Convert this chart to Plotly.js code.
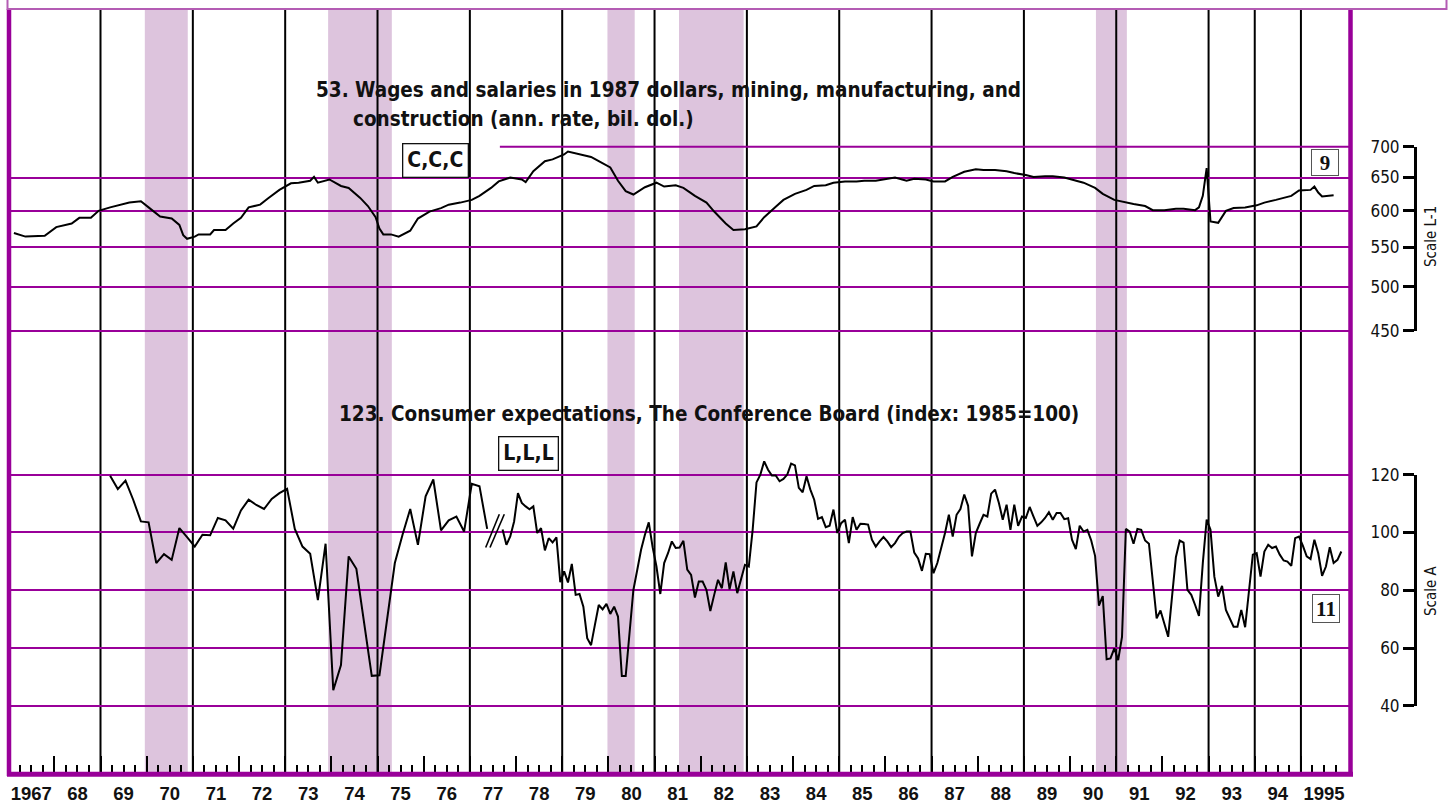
<!DOCTYPE html>
<html><head><meta charset="utf-8">
<script src="https://cdn.plot.ly/plotly-3.0.1.min.js"></script>
<style>html,body{margin:0;padding:0;background:#fff;}#chart{width:1448px;height:804px;}</style>
</head><body><div id="chart"></div>
<script>
// ---------------- DATA ----------------
const yearLabels = ["1967","68","69","70","71","72","73","74","75","76","77","78","79","80","81","82","83","84","85","86","87","88","89","90","91","92","93","94","1995"];
const dividerYears = [1969,1971,1973,1975,1977,1979,1981,1983,1985,1987,1989,1991,1993,1994,1995];
const recessionStarts = [1969.96,1973.93,1979.98,1981.53,1990.56];
const recessionEnds   = [1970.89,1975.31,1980.57,1982.93,1991.23];

// Series 53: wages and salaries (bil. 1987 $)
const wageMonths = ["1967-02","1967-05","1967-10","1968-01","1968-05","1968-07","1968-10","1968-12","1969-03","1969-06","1969-08","1969-11","1969-12","1970-01","1970-04","1970-07","1970-09","1970-10","1970-11","1971-01","1971-02","1971-05","1971-06","1971-09","1971-11","1972-01","1972-03","1972-06","1972-08","1972-11","1973-02","1973-04","1973-07","1973-08","1973-09","1973-12","1974-03","1974-05","1974-08","1974-10","1974-12","1975-01","1975-02","1975-04","1975-06","1975-09","1975-11","1976-02","1976-05","1976-07","1976-10","1977-01","1977-03","1977-06","1977-08","1977-11","1978-02","1978-03","1978-05","1978-08","1978-10","1979-01","1979-02","1979-05","1979-08","1979-10","1980-01","1980-03","1980-05","1980-07","1980-10","1981-01","1981-03","1981-06","1981-08","1981-11","1982-02","1982-04","1982-07","1982-09","1982-12","1983-03","1983-05","1983-08","1983-10","1984-01","1984-04","1984-06","1984-09","1984-11","1985-02","1985-05","1985-07","1985-10","1985-12","1986-03","1986-06","1986-08","1986-11","1987-01","1987-04","1987-06","1987-09","1987-12","1988-02","1988-05","1988-08","1988-10","1989-01","1989-03","1989-06","1989-08","1989-11","1990-02","1990-04","1990-07","1990-09","1990-12","1991-03","1991-05","1991-08","1991-10","1992-01","1992-04","1992-06","1992-09","1992-10","1992-11","1992-12","1993-01","1993-03","1993-05","1993-07","1993-10","1994-01","1994-03","1994-06","1994-08","1994-10","1994-12","1995-03","1995-04","1995-05","1995-06","1995-09"];
const wageValues = [569,564,565,577,582,590,590,600,605,609,612,614,610,605,592,589,580,566,561,564,567,567,573,573,582,590,605,609,618,631,641,642,645,651,642,647,637,634,619,607,591,575,567,567,564,572,589,599,604,609,612,616,622,634,644,650,647,643,660,676,679,687,692,687,683,676,666,645,629,624,635,642,636,638,634,622,612,599,582,573,574,578,591,606,616,625,631,637,638,642,644,644,645,645,647,650,645,648,647,644,644,651,659,663,662,662,660,657,654,651,652,652,650,645,642,634,625,616,612,610,607,601,601,603,603,601,605,622,665,585,583,600,604,605,608,612,616,619,622,630,631,636,627,621,623];

// Series 123: consumer expectations (1985=100), bimonthly 1969-1977
const expMonthsA = ["1969-03","1969-05","1969-07","1969-09","1969-11","1970-01","1970-03","1970-05","1970-07","1970-09","1970-11","1971-01","1971-03","1971-05","1971-07","1971-09","1971-11","1972-01","1972-03","1972-05","1972-07","1972-09","1972-11","1973-01","1973-03","1973-05","1973-07","1973-09","1973-11","1974-01","1974-03","1974-05","1974-07","1974-09","1974-11","1975-01","1975-03","1975-05","1975-07","1975-09","1975-11","1976-01","1976-03","1976-05","1976-07","1976-09","1976-11","1977-01","1977-03","1977-05"];
const expValuesA = [119.6,115,117.9,111.3,103.8,103.5,89.4,92.5,90.5,101.5,98.4,95.1,99.2,99.0,105.0,104.2,101.3,107.6,111.3,109.5,108.1,111.6,113.6,115.1,101.2,95.1,92.6,76.6,96.1,45.4,54.1,91.7,87.4,69.7,50.4,50.6,69.7,89.4,99.2,108.1,95.7,112.5,118.3,100.7,104.2,105.5,100.3,116.8,116.0,101.2];
// monthly from Sep 1977
const expStartB = "1977-09";
const expValuesB = [101,95.7,98.6,103.8,
113.6,110.2,109,108,109,99.8,101.5,93.8,98.0,96.5,98.3,82.8,
86.5,82.7,89.1,78.4,78.7,74.3,63.4,61.0,68,74.9,73.4,75.3,
71.8,74.3,70.9,50.3,50.3,65,80.1,87,94.0,99.2,103.5,94.9,
88.2,78.7,89.4,92.8,96.9,94.6,94.8,97.1,87.1,85.3,77.5,83.0,
83.0,80.1,72.8,78.4,83.6,80.7,89.6,80.3,86.5,79.0,83.6,88.8,
88.2,100.9,117.3,120,124.6,121.7,119.7,119.7,117.7,118.5,120,123.8,
123.2,115.4,113.9,119.4,114.8,111.3,104.7,105.3,101.8,102.3,107.9,99.8,
103.2,104.4,96.3,105.3,100.9,103,102.9,102.7,97.5,95.1,96.9,98.4,
96.9,94.9,96.3,98.5,99.8,100.3,100.3,93,91,86.7,92.6,92.5,
85.9,89.4,94.6,99.8,106.1,98.6,106.1,108.1,113.1,109.2,91.7,99.8,
103,106.1,105.5,113.4,114.8,110.2,104.4,109.6,100.9,109.6,102.3,105.5,
105,108.8,105.5,102.3,103.5,105,107,104.4,106.7,106.7,104.6,104.9,
97.5,94.2,102.3,100.3,100.9,97.2,91.9,74.7,78.0,56.1,56.4,59.9,
55.8,63.9,101.2,100.3,96.1,101.2,100.9,97.2,96.1,84.2,70.3,73,
68.6,63.9,77.8,91.4,97.2,96.5,80.1,78.4,74.9,71.1,89.4,104.4,
100.9,84.7,77.8,81.5,73.2,70.3,67.4,67.4,73.2,67.2,80.7,92.3,
92.8,84.7,93.4,95.7,94.6,95.1,92.3,90.3,89.9,88.4,98,98.6,
95.4,91.7,90.8,97.5,92.8,85,88.2,94.9,89.4,90.5,93.4];

const scaleL1Ticks = [450,500,550,600,650,700];
const scaleATicks = [40,60,80,100,120];

// ---------------- helpers ----------------
const W = 1448, H = 804;
const toYear = s => { const p = s.split('-').map(Number); return p[0] + (p[1]-0.5)/12; };
const px = x => x / W;          // pixel -> paper x
const py = y => 1 - y / H;      // pixel -> paper y
const wageX = wageMonths.map(toYear);
const expXA = expMonthsA.map(toYear);
const b0 = expStartB.split('-').map(Number);
const expXB = expValuesB.map((_, i) => b0[0] + (b0[1] - 1 + i + 0.5) / 12);

// axis geometry (pixel anchors)
const X0PX = 8.16, PXYR = 46.17, XRPX = 1350;
const xRange = [1967, 1967 + (XRPX - X0PX) / PXYR];
const L700 = 146.7, LK = 958.2;
const logPx = v => L700 - (Math.log10(v) - Math.log10(700)) * LK;
const topDataRange = [440, 712];
const A120 = 474.6, AK = 2.891;
const linPx = v => A120 - (v - 120) * AK;
const botDataRange = [38, 132];

const majorTicks = yearLabels.map((_, i) => 1967 + i);
const labelPos = yearLabels.map((_, i) => 1967.5 + i);
const minorTicks = [];
for (let y = 1967; y < 1996; y++) for (let q = 1; q < 4; q++) minorTicks.push(y + q / 4);

const COND = '"DejaVu Sans Condensed", "DejaVu Sans", sans-serif';
const PURPLE = '#990099';

const lineStyle = {color: '#000', width: 2};
const traces = [
  {x: wageX, y: wageValues, xaxis: 'x', yaxis: 'y', mode: 'lines', line: lineStyle, hoverinfo: 'skip', showlegend: false},
  {x: expXA, y: expValuesA, xaxis: 'x', yaxis: 'y2', mode: 'lines', line: lineStyle, hoverinfo: 'skip', showlegend: false},
  {x: expXB, y: expValuesB, xaxis: 'x', yaxis: 'y2', mode: 'lines', line: lineStyle, hoverinfo: 'skip', showlegend: false},
  {x: [1967], y: [null], xaxis: 'x', yaxis: 'y3', mode: 'lines', hoverinfo: 'skip', showlegend: false},
  {x: [1967], y: [null], xaxis: 'x', yaxis: 'y4', mode: 'lines', hoverinfo: 'skip', showlegend: false},
  {x: [1967], y: [null], xaxis: 'x2', yaxis: 'y', mode: 'lines', hoverinfo: 'skip', showlegend: false}
];

const shapes = [];
recessionStarts.forEach((s, i) => shapes.push({type: 'rect', xref: 'x', yref: 'paper', x0: s, x1: recessionEnds[i], y0: py(774), y1: py(9), fillcolor: 'rgb(221,196,221)', line: {width: 0}, layer: 'below'}));
dividerYears.forEach(yr => shapes.push({type: 'line', xref: 'x', yref: 'paper', x0: yr, x1: yr, y0: py(774), y1: py(9), line: {color: '#000', width: 2}, layer: 'between'}));
shapes.push({type: 'line', xref: 'x', yref: 'paper', x0: 1977.65, x1: xRange[1], y0: py(logPx(700)), y1: py(logPx(700)), line: {color: PURPLE, width: 2}, layer: 'between'});
shapes.push({type: 'line', xref: 'x', yref: 'y2', x0: 1977.343, y0: 94.8, x1: 1977.638, y1: 106.3, line: {color: '#000', width: 1.6}});
shapes.push({type: 'line', xref: 'x', yref: 'y2', x0: 1977.436, y0: 94.8, x1: 1977.746, y1: 106.3, line: {color: '#000', width: 1.6}});
shapes.push({type: 'line', xref: 'paper', yref: 'paper', x0: px(9), x1: px(9), y0: py(776), y1: py(9), line: {color: PURPLE, width: 4.5}});
shapes.push({type: 'line', xref: 'paper', yref: 'paper', x0: px(1350.5), x1: px(1350.5), y0: py(776), y1: py(9), line: {color: PURPLE, width: 4.5}});
shapes.push({type: 'line', xref: 'paper', yref: 'paper', x0: px(7), x1: px(1353), y0: py(774.2), y1: py(774.2), line: {color: PURPLE, width: 5}});
shapes.push({type: 'rect', xref: 'paper', yref: 'paper', x0: px(7.5), x1: px(1446.5), y0: py(9), y1: py(-10), line: {color: '#b45cb4', width: 2}, fillcolor: 'rgba(0,0,0,0)'});

const titleFont = {family: COND, size: 20.5, color: '#111', weight: 'bold'};
const boxFont = {family: COND, size: 21, color: '#111', weight: 'bold'};
const serifFont = {family: '"Liberation Serif", "DejaVu Serif", serif', size: 21, color: '#111', weight: 'bold'};
const annotations = [
  {xref: 'paper', yref: 'paper', x: px(314), y: py(90), xanchor: 'left', yanchor: 'middle', showarrow: false, text: '53. Wages and salaries in 1987 dollars, mining, manufacturing, and', font: titleFont},
  {xref: 'paper', yref: 'paper', x: px(351), y: py(119), xanchor: 'left', yanchor: 'middle', showarrow: false, text: 'construction (ann. rate, bil. dol.)', font: titleFont},
  {xref: 'paper', yref: 'paper', x: px(337), y: py(414), xanchor: 'left', yanchor: 'middle', showarrow: false, text: '123. Consumer expectations, The Conference Board (index: 1985=100)', font: titleFont},
  {xref: 'paper', yref: 'paper', x: px(435.5), y: py(160), xanchor: 'center', yanchor: 'middle', showarrow: false, text: 'C,C,C', font: boxFont, bordercolor: '#111', borderwidth: 1.3, borderpad: 4, bgcolor: '#fff'},
  {xref: 'paper', yref: 'paper', x: px(528.5), y: py(453), xanchor: 'center', yanchor: 'middle', showarrow: false, text: 'L,L,L', font: boxFont, bordercolor: '#111', borderwidth: 1.3, borderpad: 4, bgcolor: '#fff'},
  {xref: 'paper', yref: 'paper', x: px(1324.5), y: py(162), xanchor: 'center', yanchor: 'middle', showarrow: false, text: '9', font: serifFont, bordercolor: '#555', borderwidth: 1, borderpad: 1, width: 24, height: 23, bgcolor: '#fff'},
  {xref: 'paper', yref: 'paper', x: px(1325.5), y: py(608), xanchor: 'center', yanchor: 'middle', showarrow: false, text: '11', font: serifFont, bordercolor: '#555', borderwidth: 1, borderpad: 1, width: 24, height: 25, bgcolor: '#fff'},
  {xref: 'paper', yref: 'paper', x: px(1431), y: py(237), xanchor: 'center', yanchor: 'middle', showarrow: false, text: 'Scale L-1', textangle: -90, font: {family: COND, size: 15, color: '#111'}},
  {xref: 'paper', yref: 'paper', x: px(1431), y: py(591), xanchor: 'center', yanchor: 'middle', showarrow: false, text: 'Scale A', textangle: -90, font: {family: COND, size: 15, color: '#111'}}
];

const dispAxis = {anchor: 'free', position: px(1415), side: 'left', ticks: 'outside', ticklen: 11, tickwidth: 3, tickcolor: '#000',
  showline: true, linewidth: 3, linecolor: '#000', showgrid: false, zeroline: false, fixedrange: true,
  tickfont: {family: COND, size: 17, color: '#111'}, tickmode: 'array'};

const layout = {
  width: W, height: H, margin: {l: 0, r: 0, t: 0, b: 0},
  paper_bgcolor: '#fff', plot_bgcolor: 'rgba(0,0,0,0)', showlegend: false,
  xaxis: {domain: [px(X0PX), px(XRPX)], range: xRange, anchor: 'free', position: py(774), showgrid: false, zeroline: false, showline: false,
    tickmode: 'array', tickvals: majorTicks, ticks: 'inside', ticklen: 18, tickwidth: 2, tickcolor: '#000', showticklabels: false,
    minor: {tickmode: 'array', tickvals: minorTicks, ticks: 'inside', ticklen: 9, tickwidth: 2, tickcolor: '#000', showgrid: false}},
  xaxis2: {overlaying: 'x', range: xRange, anchor: 'free', position: py(774), showgrid: false, zeroline: false, showline: false,
    tickmode: 'array', tickvals: labelPos, ticktext: yearLabels, ticks: '', ticklabelstandoff: 6,
    tickfont: {family: '"Liberation Sans", Arial, sans-serif', size: 18.5, color: '#111', weight: 'bold'}},
  yaxis: {type: 'log', domain: [py(logPx(topDataRange[0])), py(logPx(topDataRange[1]))], range: topDataRange.map(Math.log10), anchor: 'x',
    tickmode: 'array', tickvals: [450,500,550,600,650], showticklabels: false, ticks: '', showgrid: true, gridcolor: PURPLE, gridwidth: 2, zeroline: false, showline: false},
  yaxis2: {domain: [py(linPx(botDataRange[0])), py(linPx(botDataRange[1]))], range: botDataRange, anchor: 'x',
    tickmode: 'array', tickvals: scaleATicks, showticklabels: false, ticks: '', showgrid: true, gridcolor: PURPLE, gridwidth: 2, zeroline: false, showline: false},
  yaxis3: Object.assign({}, dispAxis, {domain: [py(linPx(40)), py(linPx(120))], range: [40, 120], tickvals: scaleATicks, ticktext: scaleATicks.map(String)}),
  yaxis4: Object.assign({}, dispAxis, {type: 'log', domain: [py(logPx(450)), py(logPx(700))], range: [Math.log10(450), Math.log10(700)], tickvals: scaleL1Ticks, ticktext: scaleL1Ticks.map(String)}),
  shapes: shapes, annotations: annotations
};

Plotly.newPlot('chart', traces, layout, {staticPlot: true});
</script>
</body></html>
